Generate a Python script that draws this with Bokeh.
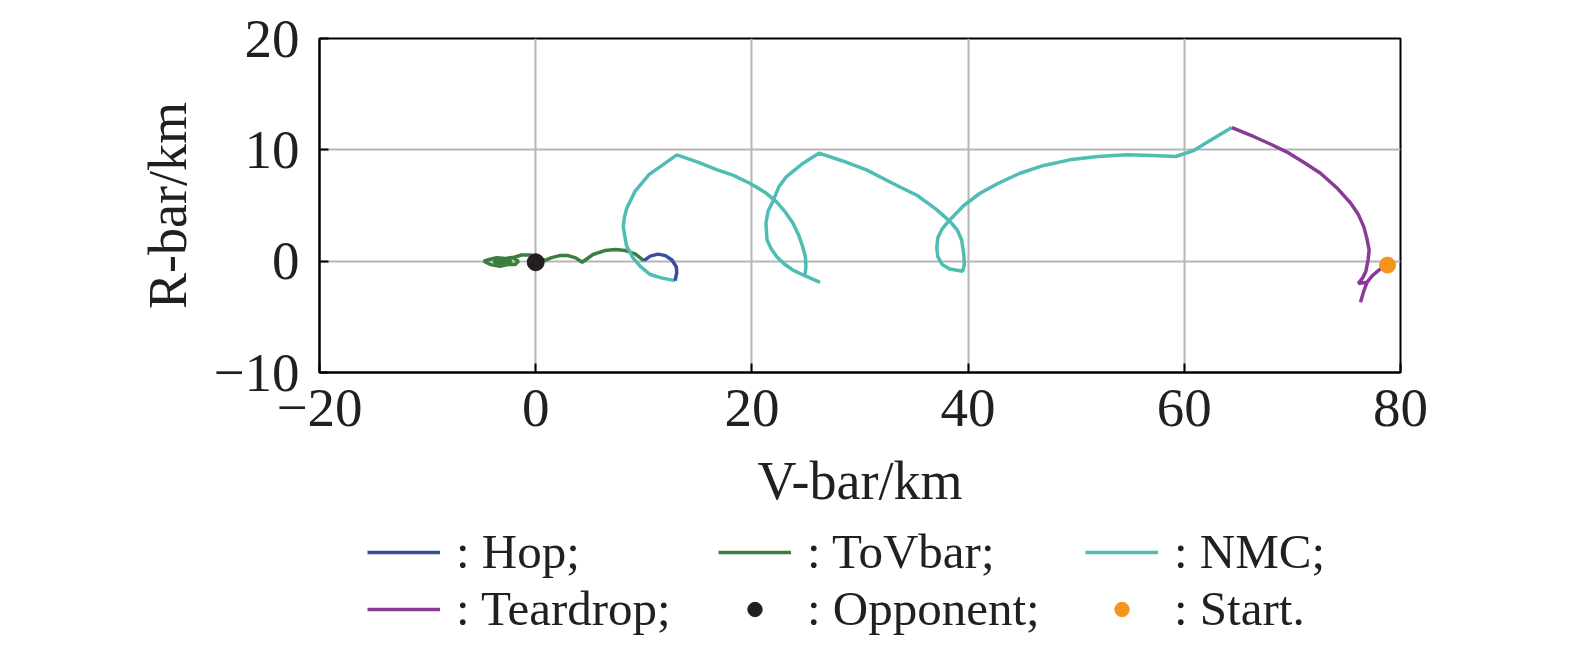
from bokeh.plotting import figure
from bokeh.layouts import column
from bokeh.models import Legend, LegendItem, FixedTicker, Range1d
from bokeh.embed import file_html
from bokeh.resources import INLINE

# ---- data (km) ----
hop_x = [12.9, 13.05, 13.0, 12.6, 12.0, 11.3, 10.6, 10.0]
hop_y = [-1.75, -1.0, -0.5, 0.1, 0.5, 0.63, 0.45, 0.05]

tovbar_x = [10.0, 9.2, 8.3, 7.4, 6.4, 5.3, 4.3, 3.7, 3.0, 2.2, 1.4, 0.8,
            0.2, -0.5, -1.3, -2.0, -2.8, -3.6, -4.3, -4.8, -4.2, -3.3, -2.6,
            -1.9, -1.6, -2.1, -2.9, -3.5, -3.9, -3.4, -2.7, -2.2]
tovbar_y = [0.05, 0.65, 0.95, 1.05, 0.95, 0.6, -0.1, 0.3, 0.5, 0.5, 0.3, 0.05,
            0.4, 0.55, 0.55, 0.35, 0.25, 0.3, 0.15, 0.0, -0.3, -0.45, -0.3,
            -0.3, 0.0, 0.3, 0.15, 0.05, 0.0, -0.2, -0.15, 0.05]

nmc_x = [64.4, 62.5, 60.8, 59.2, 57.0, 54.7, 52.0, 49.4, 47.0, 44.8, 42.8,
         41.1, 39.6, 38.3, 37.6, 37.2, 37.1, 37.2, 37.6, 38.3, 39.5,
         39.65, 39.6, 39.4, 39.0, 38.3, 37.0, 35.3, 33.0, 30.6, 28.4, 26.2,
         24.6, 23.2, 22.5, 22.0, 21.5, 21.3, 21.4, 21.8, 22.3, 23.0, 23.8, 25.1, 26.3,
         24.9, 25.0, 24.95, 24.7, 24.3, 23.8, 23.1, 22.3, 21.2, 19.8, 18.3, 16.8, 15.0, 13.05,
         11.4, 10.5, 9.9, 9.2, 8.8, 8.4, 8.2, 8.1, 8.2, 8.4, 9.0, 9.7, 10.6, 11.6, 12.9]
nmc_y = [12.0, 10.9, 9.9, 9.4, 9.5, 9.55, 9.4, 9.1, 8.6, 7.9, 7.0,
         6.1, 5.0, 3.7, 2.9, 2.1, 1.2, 0.4, -0.3, -0.7, -0.9,
         -0.3, 0.6, 1.9, 2.8, 3.6, 4.7, 5.9, 7.0, 8.2, 9.0, 9.7,
         8.7, 7.6, 6.7, 5.5, 4.5, 3.4, 1.9, 1.1, 0.4, -0.25, -0.8, -1.4, -1.9,
         -1.3, -0.5, 0.4, 1.3, 2.4, 3.4, 4.4, 5.3, 6.2, 7.0, 7.7, 8.2, 8.9, 9.55,
         8.4, 7.8, 7.1, 6.3, 5.5, 4.7, 3.9, 3.1, 2.5, 1.4, 0.3, -0.5, -1.2, -1.5, -1.75]

teardrop_x = [78.8, 78.0, 77.4, 76.9, 76.6, 76.3, 76.6, 76.9, 76.1, 76.5,
              76.8, 77.0, 77.1, 76.9, 76.6, 76.1, 75.4, 74.2, 72.6, 71.0,
              69.5, 68.0, 66.4, 64.4]
teardrop_y = [-0.35, -0.8, -1.3, -1.9, -2.7, -3.7, -2.7, -1.9, -2.0, -1.5,
              -0.9, 0.1, 1.0, 2.0, 3.1, 4.2, 5.2, 6.5, 7.9, 8.9,
              9.8, 10.5, 11.2, 12.0]

opponent_x = [0.0]
opponent_y = [-0.1]
start_x = [78.8]
start_y = [-0.35]

x_ticks = [-20, 0, 20, 40, 60, 80]
y_ticks = [-10, 0, 10, 20]

legend_labels = [": Hop;", ": ToVbar;", ": NMC;", ": Teardrop;", ": Opponent;", ": Start."]

FONT = "Liberation Serif"
TXT = "#231f20"
C_HOP, C_TOV, C_NMC, C_TEAR = "#3a4ea0", "#3b7f3e", "#4fbdb4", "#8a3b98"
C_OPP, C_START = "#231f20", "#f6921e"
LW = 3.5

H1 = 520
p = figure(width=1575, height=H1, output_backend="svg", toolbar_location=None,
           x_range=Range1d(-20, 80), y_range=Range1d(-10, 20),
           min_border_left=319, min_border_right=175, min_border_top=38,
           min_border_bottom=H1 - 372)

p.outline_line_color = "black"
p.outline_line_width = 2
p.background_fill_color = "white"
p.border_fill_color = "white"

for ax in (p.xaxis[0], p.yaxis[0]):
    ax.axis_line_color = "black"
    ax.axis_line_width = 2
    ax.major_tick_in = 9
    ax.major_tick_out = 0
    ax.major_tick_line_width = 2
    ax.major_tick_line_color = "black"
    ax.minor_tick_line_color = None
    ax.major_label_text_font = FONT
    ax.major_label_text_font_size = "55px"
    ax.major_label_text_color = TXT
    ax.axis_label_text_font = FONT
    ax.axis_label_text_font_size = "54px"
    ax.axis_label_text_font_style = "normal"
    ax.axis_label_text_color = TXT

p.xaxis.ticker = FixedTicker(ticks=x_ticks)
p.yaxis.ticker = FixedTicker(ticks=y_ticks)
p.xaxis.major_label_overrides = {t: (("\u2212" + str(-t)) if t < 0 else str(t)) for t in x_ticks}
p.yaxis.major_label_overrides = {t: (("\u2212" + str(-t)) if t < 0 else str(t)) for t in y_ticks}
p.xaxis.axis_label = "V-bar/km"
p.yaxis.axis_label = "R-bar/km"
p.xaxis.major_label_standoff = 17
p.yaxis.major_label_standoff = 20
p.xaxis.axis_label_standoff = 22
p.yaxis.axis_label_standoff = 12

p.xgrid.ticker = FixedTicker(ticks=x_ticks)
p.ygrid.ticker = FixedTicker(ticks=y_ticks)
p.grid.grid_line_color = "#b5b5b5"
p.grid.grid_line_width = 2

p.line(tovbar_x, tovbar_y, line_color=C_TOV, line_width=LW)
p.line(nmc_x, nmc_y, line_color=C_NMC, line_width=LW)
p.line(hop_x, hop_y, line_color=C_HOP, line_width=LW)
p.line(teardrop_x, teardrop_y, line_color=C_TEAR, line_width=LW)
p.scatter(opponent_x, opponent_y, size=17, fill_color=C_OPP, line_color=C_OPP)
p.scatter(start_x, start_y, size=16, fill_color=C_START, line_color=C_START)

# ---- legend strip below the chart (its frame is aligned with the chart's frame) ----
H2 = 659 - H1
q = figure(width=1575, height=H2, output_backend="svg", toolbar_location=None,
           x_range=Range1d(0, 1), y_range=Range1d(0, 1),
           x_axis_type=None, y_axis_type=None,
           min_border_left=0, min_border_right=0, min_border_top=0, min_border_bottom=0)
q.grid.visible = False
q.outline_line_color = None

nan = float("nan")
k_hop = q.line([nan], [nan], line_color=C_HOP, line_width=LW)
k_tov = q.line([nan], [nan], line_color=C_TOV, line_width=LW)
k_nmc = q.line([nan], [nan], line_color=C_NMC, line_width=LW)
k_tear = q.line([nan], [nan], line_color=C_TEAR, line_width=LW)
k_opp = q.scatter([nan], [nan], size=14, fill_color=C_OPP, line_color=C_OPP)
k_start = q.scatter([nan], [nan], size=14, fill_color=C_START, line_color=C_START)
keys = [k_hop, k_tov, k_nmc, k_tear, k_opp, k_start]

col_x = [48, 399, 766]   # legend column offsets from the frame's left edge, px
for c, cx in enumerate(col_x):
    idx = [c, c + 3]
    lg = Legend(items=[LegendItem(label=legend_labels[i], renderers=[keys[i]]) for i in idx],
                orientation="vertical", location=(cx, 22))
    lg.label_text_font = FONT
    lg.label_text_font_size = "49px"
    lg.label_text_color = TXT
    lg.glyph_width = 73
    lg.glyph_height = 36
    lg.label_standoff = 16
    lg.spacing = 0
    lg.padding = 0
    lg.margin = 0
    lg.border_line_alpha = 0
    lg.background_fill_alpha = 0
    q.add_layout(lg, "center")

open("out.html", "w").write(file_html(column(p, q), INLINE))
